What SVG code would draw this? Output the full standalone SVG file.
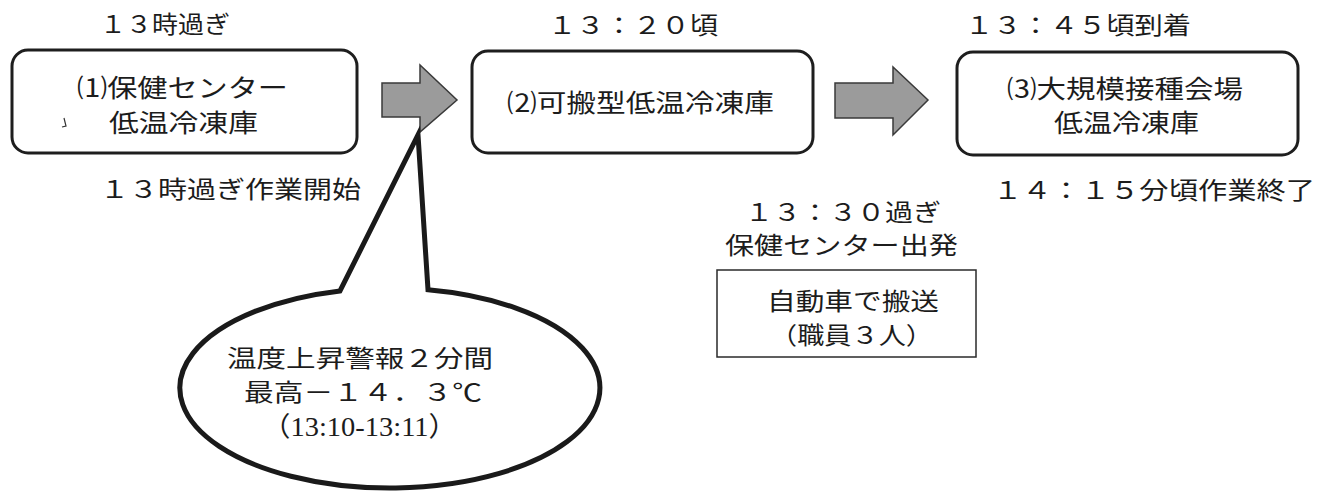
<svg xmlns="http://www.w3.org/2000/svg" width="1327" height="494" viewBox="0 0 1327 494">
<style>
.bg{fill:#ffffff}
.box{fill:#ffffff;stroke:#1e1e1e;stroke-width:3}
.thin{fill:#ffffff;stroke:#2a2a2a;stroke-width:1.5}
.arrow{fill:#9b9b9b;stroke:#3a3a3a;stroke-width:1.5;stroke-linejoin:miter}
.callout{fill:#ffffff;stroke:#1a1a1a;stroke-width:5;stroke-linejoin:miter}
.m{font-family:"Liberation Serif","Noto Sans CJK JP",serif;font-size:24px;fill:#1c1c1c}
.g{font-family:"Noto Sans CJK JP","Noto Sans",sans-serif;font-size:25px;fill:#1c1c1c}
.d{font-family:"Liberation Serif","Noto Sans CJK JP",serif;font-size:27px;fill:#1c1c1c}
</style>
<rect class="bg" x="0" y="0" width="1327" height="494"/>

<g id="connectors">
  <path id="arrow1" class="arrow" d="M382,83 L420,83 L420,65 L457,100 L420,132 L420,117 L382,117 Z"/>
  <path id="arrow2" class="arrow" d="M835,83 L893,83 L893,67 L928,100 L893,135 L893,118 L835,118 Z"/>
</g>

<g id="node1">
  <rect class="box" x="12" y="50" width="345" height="103" rx="16" ry="16"/>
  <text class="g" x="77" y="97" textLength="211" lengthAdjust="spacingAndGlyphs">⑴保健センター</text>
  <text class="g" x="109" y="132" textLength="149" lengthAdjust="spacingAndGlyphs">低温冷凍庫</text>
  <path d="M64,118 L66,126 L62,127" fill="none" stroke="#333" stroke-width="1.2"/>
  <text class="m" x="100" y="33" textLength="130" lengthAdjust="spacingAndGlyphs">１３時過ぎ</text>
  <text class="m" x="100" y="198" textLength="261" lengthAdjust="spacingAndGlyphs">１３時過ぎ作業開始</text>
</g>

<g id="node2">
  <rect class="box" x="472" y="51" width="341" height="102" rx="16" ry="16"/>
  <text class="g" x="507" y="112" textLength="267" lengthAdjust="spacingAndGlyphs">⑵可搬型低温冷凍庫</text>
  <text class="m" x="548" y="34" textLength="170" lengthAdjust="spacingAndGlyphs">１３：２０頃</text>
</g>

<g id="node3">
  <rect class="box" x="957" y="52" width="341" height="103" rx="16" ry="16"/>
  <text class="g" x="1007" y="98" textLength="236" lengthAdjust="spacingAndGlyphs">⑶大規模接種会場</text>
  <text class="g" x="1054" y="132" textLength="145" lengthAdjust="spacingAndGlyphs">低温冷凍庫</text>
  <text class="m" x="965" y="34" textLength="226" lengthAdjust="spacingAndGlyphs">１３：４５頃到着</text>
  <text class="m" x="993" y="199" textLength="322" lengthAdjust="spacingAndGlyphs">１４：１５分頃作業終了</text>
</g>

<g id="transport">
  <text class="m" x="745" y="221" textLength="196" lengthAdjust="spacingAndGlyphs">１３：３０過ぎ</text>
  <text class="m" x="725" y="254" textLength="233" lengthAdjust="spacingAndGlyphs">保健センター出発</text>
  <rect class="thin" x="717" y="270" width="259" height="87"/>
  <text class="m" x="767" y="310" textLength="172" lengthAdjust="spacingAndGlyphs">自動車で搬送</text>
  <text class="m" x="770" y="344" textLength="163" lengthAdjust="spacingAndGlyphs">（職員３人）</text>
</g>

<g id="alert">
  <path class="callout" d="M340,290.9 L418,135 L428,289.7 A210,100 0 1 1 340,290.9 Z"/>
  <text class="m" x="227" y="367" textLength="266" lengthAdjust="spacingAndGlyphs">温度上昇警報２分間</text>
  <text class="m" x="244" y="401" textLength="238" lengthAdjust="spacingAndGlyphs">最高－１４．３℃</text>
  <text class="d" x="262" y="436" textLength="195" lengthAdjust="spacingAndGlyphs">（13:10-13:11）</text>
</g>
</svg>
